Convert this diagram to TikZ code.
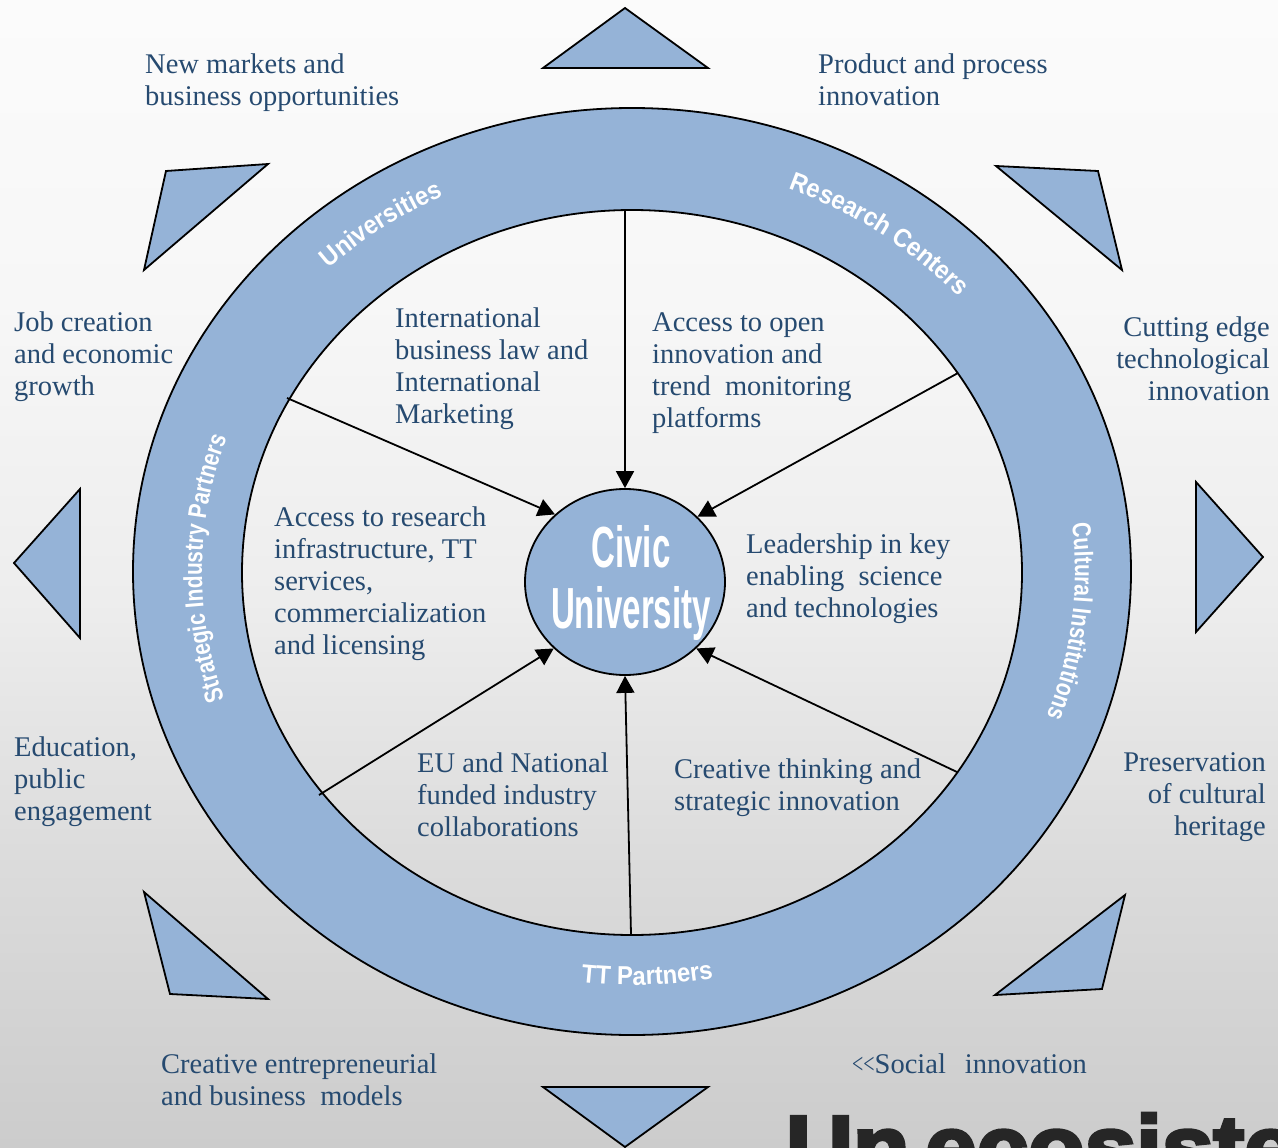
\documentclass[tikz,border=0pt]{standalone}
\usepackage{fontspec}
\setmainfont{Liberation Serif}
\setsansfont{Liberation Sans}
\newfontfamily\heavyfont[FakeBold=4,FakeStretch=1.04]{Liberation Sans Bold}
\newfontfamily\ringfont[FakeStretch=0.92]{Liberation Sans Bold}
\newfontfamily\ringnarrow[FakeStretch=0.80]{Liberation Sans Bold}
\usetikzlibrary{arrows.meta,shapes.geometric,decorations.text}
\definecolor{ringblue}{HTML}{95B3D7}
\definecolor{bodyblue}{HTML}{264A70}
\definecolor{bgA}{HTML}{FBFBFB}
\definecolor{bgB}{HTML}{F7F7F7}
\definecolor{bgC}{HTML}{EDEDED}
\definecolor{bgD}{HTML}{DCDCDC}
\definecolor{bgE}{HTML}{CCCCCC}
\tikzset{
  x=1pt,y=-1pt,
  outline/.style={draw=black,line width=1.8pt,fill=ringblue,line join=miter},
  tri/.style={outline},
  spoke/.style={draw=black,line width=1.8pt,-{Triangle[length=17pt,width=18pt]}},
  body/.style={text=bodyblue,inner sep=0pt,font=\fontsize{28.5}{32}\selectfont},
  bodyl/.style={body,anchor=west,align=left},
  bodyr/.style={body,anchor=east,align=right},
  ringtext/.style={decorate,decoration={text along path,text align=center,
     text={|\fontsize{26}{26}\selectfont\ringfont\color{white}|#1}}},
  ringtextn/.style={decorate,decoration={text along path,text align=center,
     text={|\fontsize{26}{26}\selectfont\ringnarrow\color{white}|#1}}},
}
\begin{document}
\begin{tikzpicture}
\useasboundingbox (0,0) rectangle (1278,1148);
\clip (0,0) rectangle (1278,1148);
\shade[top color=bgA,bottom color=bgB] (0,0) rectangle (1278,301);
\shade[top color=bgB,bottom color=bgC] (0,300) rectangle (1278,601);
\shade[top color=bgC,bottom color=bgD] (0,600) rectangle (1278,851);
\shade[top color=bgD,bottom color=bgE] (0,850) rectangle (1278,1148);

% triangles
\draw[tri] (625,8) -- (543,68) -- (708,68) -- cycle;
\draw[tri] (996,166) -- (1098,171) -- (1122,270) -- cycle;
\draw[tri] (1196,482) -- (1263,557) -- (1196,632) -- cycle;
\draw[tri] (1125,895) -- (1102,989) -- (995,995) -- cycle;
\draw[tri] (543,1087) -- (708,1087) -- (625,1147) -- cycle;
\draw[tri] (144,892) -- (170,994) -- (268,999) -- cycle;
\draw[tri] (80,489) -- (14,563) -- (80,638) -- cycle;
\draw[tri] (268,164) -- (166,171) -- (144,270) -- cycle;

% ring
\path[outline,even odd rule]
  (632,571.5) ellipse [x radius=499,y radius=463.5]
  (632,572.5) ellipse [x radius=390,y radius=362.5];

% ring labels
\path[ringtext={Universities}] plot[domain=144.2:104.2,samples=60] ({632+445*cos(\x)},{572-415*sin(\x)});
\path[ringtext={Research Centers}] plot[domain=75.5:35.5,samples=60] ({632+440*cos(\x)},{572-410*sin(\x)});
\path[ringtextn={Cultural Institutions}] plot[domain=25.7:-39.3,samples=60] ({632+443*cos(\x)},{572-410*sin(\x)});
\path[ringtext={TT Partners}] plot[domain=249.5:294.5,samples=60] ({632+445*cos(\x)},{572-413*sin(\x)});
\path[ringtextn={Strategic Industry Partners}] plot[domain=204.5:154.5,samples=60] ({632+430*cos(\x)},{572-400*sin(\x)});

% centre
\node[ellipse,outline,minimum width=200pt,minimum height=186pt,inner sep=0pt] (civic) at (625,582) {};
\node[inner sep=0pt,text=white,align=center,font=\fontsize{58}{61}\selectfont\sffamily\bfseries] (civictext) at (631,583)
  {\scalebox{.57}[1]{Civic}\\\scalebox{.57}[1]{University}};

% spokes
\coordinate (sT) at (625,210);
\coordinate (sUR) at (958,373);
\coordinate (sUL) at (287,398);
\coordinate (sLL) at (319,795);
\coordinate (sB) at (631,934);
\coordinate (sLR) at (957,772);
\draw[spoke] (sT) -- (civic.90);
\draw[spoke] (sUR) -- (civic.42.5);
\draw[spoke] (sUL) -- (civic.136.7);
\draw[spoke] (sLL) -- (civic.223.3);
\draw[spoke] (sB) -- (civic.270);
\draw[spoke] (sLR) -- (civic.317.5);

% texts
\node[bodyl] (t1) at (145,83) {New markets and\\business opportunities};
\node[bodyl] (t2) at (818,80) {Product and process\\innovation};
\node[bodyl] (t3) at (14,357) {Job creation\\and economic\\growth};
\node[bodyr] (t4) at (1270,359) {Cutting edge\\technological\\innovation};
\node[bodyl] (t5) at (395,369) {International\\business law and\\International\\Marketing};
\node[bodyl] (t6) at (652,373) {Access to open\\innovation and\\trend\ \ monitoring\\platforms};
\node[bodyl] (t7) at (274,584) {Access to research\\infrastructure, TT\\services,\\commercialization\\and licensing};
\node[bodyl] (t8) at (746,579) {Leadership in key\\enabling\ \ science\\and technologies};
\node[bodyl] (t9) at (14,782) {Education,\\public\\engagement};
\node[bodyr] (t10) at (1266,797) {Preservation\\of cultural\\heritage};
\node[bodyl] (t11) at (417,795) {EU and National\\funded industry\\collaborations};
\node[bodyl] (t12) at (674,788) {Creative thinking and\\strategic innovation};
\node[bodyl] (t13) at (161,1080) {Creative entrepreneurial\\and business\ \ models};
\node[bodyl] (t14) at (852,1064) {\scalebox{.7}[1]{<{}<}Social\hspace{19pt}innovation};
\node[anchor=base west,inner sep=0pt,text=black!85,font=\fontsize{89}{89}\heavyfont] (t15) at (786,1178) {Un\hspace{-10pt} ecosistema};
\end{tikzpicture}
\end{document}
